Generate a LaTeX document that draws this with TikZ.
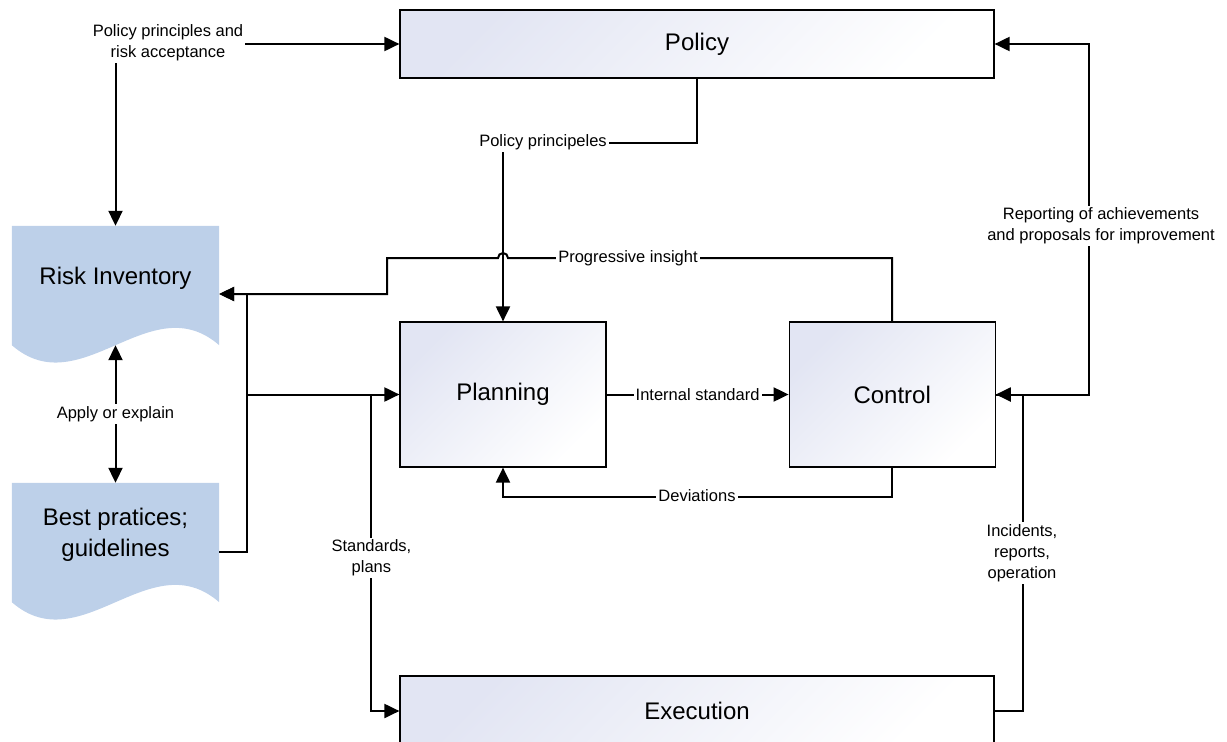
\documentclass[tikz,border=0pt]{standalone}
\usepackage{fontspec}
\setmainfont{Liberation Sans}
\usetikzlibrary{arrows.meta,positioning,backgrounds}
\definecolor{docblue}{RGB}{189,208,233}
\definecolor{boxtint}{RGB}{226,229,243}

% wavy document shape behind a doc node
\newcommand{\docwave}[1]{%
  \fill[docblue] (#1.north west) -- (#1.north east) -- ([yshift=-15pt]#1.south east)
    .. controls +(-69,-60) and +(69,60) .. ([yshift=-15pt]#1.south west) -- cycle;}

\begin{document}
\begin{tikzpicture}[x=1pt,y=-1pt,>={Triangle[length=15pt,width=14pt]},
    block/.style={draw=black,line width=1.2pt,left color=boxtint,right color=white,
                  shading angle=45,font=\fontsize{24}{31}\selectfont},
    doc/.style={minimum width=207pt,minimum height=104pt,align=center,
                font=\fontsize{24}{31}\selectfont},
    conn/.style={line width=2pt},
    lbl/.style={fill=white,inner sep=2pt,align=center,font=\fontsize{16.5}{21}\selectfont}]
  \clip (0,0) rectangle (1227,742);

  \node[block,minimum width=594pt,minimum height=68pt]  (policy)    at (697,44)    {Policy};
  \node[block,minimum width=206pt,minimum height=145pt] (planning)  at (503,394.5) {Planning};
  \node[block,minimum width=206pt,minimum height=145pt] (control)   [right=182pt of planning] {Control};
  \node[block,minimum width=594pt,minimum height=70pt]  (execution) at (697,711)   {Execution};
  \node[doc] (risk) at (115.5,278) {Risk Inventory};
  \node[doc] (best) at (115.5,535) {Best pratices;\\guidelines};

  \begin{pgfonlayer}{background}
    \docwave{risk}
    \docwave{best}
  \end{pgfonlayer}

  \coordinate (split) at ([xshift=-28pt]planning.west);

  \draw[conn,<->] (risk.north) |- (policy.west);
  \draw[conn,->] (policy.south) -- ++(0,64) -| (planning.north);
  \draw[conn,->] (control.north) |- (508,258) arc[start angle=0,end angle=-180,radius=5]
                 -- (387,258) |- ([yshift=-16pt]risk.east);
  \draw[conn,->] ([yshift=-17pt]best.east) -- ++(28,0) |- ([yshift=-16pt]risk.east);
  \draw[conn,->] ([yshift=-17pt]best.east) -- ++(28,0) |- (planning.west);
  \draw[conn,->] (split) |- (execution.west);
  \draw[conn,->] (planning) -- node[lbl] {Internal standard} (control);
  \draw[conn,->] (control.south) -- ++(0,29) -| (planning.south);
  \draw[conn,->] (control.east) -- ++(93,0) |- (policy.east);
  \draw[conn,->] (execution.east) -- ++(28,0) |- (control.east);
  \draw[conn,<->] ([yshift=-15pt]risk.south) -- node[lbl] {Apply or explain} (best.north);

  % labels sitting on the connectors
  \node[lbl] (polrisk) at (168,43)  {Policy principles and\\risk acceptance};
  \node[lbl] (polprin) at (543,142) {Policy principeles};
  \node[lbl] (insight) at (628,258) {Progressive insight};
  \node[lbl] (devs)    at (697,496) {Deviations};
  \node[lbl] (stdplan) at (split |- 0,558) {Standards,\\plans};
  \node[lbl] (report)  at (1101,226) {Reporting of achievements\\and proposals for improvement};
  \node[lbl] (incid)   at (1022,553) {Incidents,\\reports,\\operation};
\end{tikzpicture}
\end{document}
